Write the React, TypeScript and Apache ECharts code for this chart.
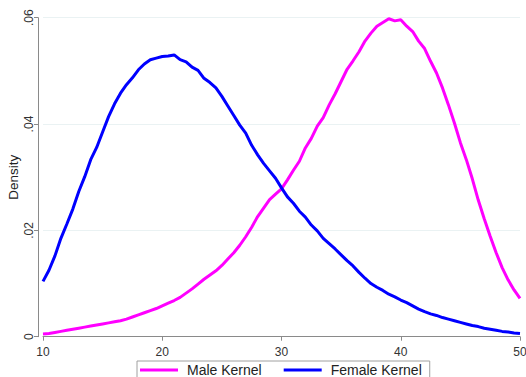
import React, { useEffect, useRef } from "react";
import * as echarts from "echarts";

const ages = [
  10, 10.5, 11, 11.5, 12, 12.5, 13, 13.5, 14, 14.5, 15, 15.5, 16, 16.5, 17, 17.5, 18, 18.5, 19, 19.5,
  20, 20.5, 21, 21.5, 22, 22.5, 23, 23.5, 24, 24.5, 25, 25.5, 26, 26.5, 27, 27.5, 28, 28.5, 29, 29.5,
  30, 30.5, 31, 31.5, 32, 32.5, 33, 33.5, 34, 34.5, 35, 35.5, 36, 36.5, 37, 37.5, 38, 38.5, 39, 39.5,
  40, 40.5, 41, 41.5, 42, 42.5, 43, 43.5, 44, 44.5, 45, 45.5, 46, 46.5, 47, 47.5, 48, 48.5, 49, 49.5, 50,
];

const maleKernel = [
  0.0005, 0.0006, 0.0008, 0.001, 0.0012, 0.0014, 0.0016, 0.0018, 0.002, 0.0022,
  0.0024, 0.0026, 0.0028, 0.003, 0.0033, 0.0037, 0.0041, 0.0045, 0.0049, 0.0053,
  0.0058, 0.0063, 0.0068, 0.0074, 0.0082, 0.009, 0.0099, 0.0108, 0.0116, 0.0124,
  0.0134, 0.0146, 0.0158, 0.0172, 0.0188, 0.0206, 0.0226, 0.0242, 0.0258, 0.0268,
  0.0278, 0.0295, 0.0313, 0.033, 0.0355, 0.0373, 0.0396, 0.0412, 0.0436, 0.0457,
  0.048, 0.0503, 0.0519, 0.0536, 0.0556, 0.0571, 0.0584, 0.0591, 0.0598, 0.0594,
  0.0596, 0.0584, 0.0574, 0.0556, 0.0542, 0.0518, 0.0496, 0.0468, 0.0436, 0.0402,
  0.0365, 0.0333, 0.0297, 0.0257, 0.0222, 0.0189, 0.0158, 0.013, 0.0107, 0.0088, 0.0072,
];

const femaleKernel = [
  0.0104, 0.0125, 0.0152, 0.0185, 0.0212, 0.024, 0.0273, 0.0301, 0.0333, 0.0356,
  0.0385, 0.0414, 0.0438, 0.0458, 0.0474, 0.0487, 0.0502, 0.0513, 0.0521, 0.0524,
  0.0527, 0.0528, 0.053, 0.0521, 0.0517, 0.0507, 0.0501, 0.0486, 0.0478, 0.0468,
  0.0452, 0.0434, 0.0416, 0.0398, 0.0383, 0.036, 0.0342, 0.0326, 0.0312, 0.0298,
  0.028, 0.0263, 0.0251, 0.0236, 0.0225, 0.021, 0.0199, 0.0185, 0.0175, 0.0165,
  0.0154, 0.0143, 0.0133, 0.0121, 0.011, 0.01, 0.0093, 0.0087, 0.008, 0.0075,
  0.0069, 0.0064, 0.0058, 0.0052, 0.0047, 0.0043, 0.004, 0.0036, 0.0033, 0.003,
  0.0027, 0.0024, 0.0021, 0.0019, 0.0016, 0.0014, 0.0012, 0.001, 0.0009, 0.0007, 0.0006,
];

const seriesNames = ["Male Kernel", "Female Kernel"];
const xTicks = [10, 20, 30, 40, 50];
const yTicks = [0, 0.02, 0.04, 0.06];

const FONT = "'Liberation Sans', Arial, sans-serif";

export default function App() {
  const ref = useRef<HTMLDivElement>(null);

  useEffect(() => {
    document.body.style.margin = "0";
    if (!ref.current) return;
    const chart = echarts.init(ref.current, undefined, { renderer: "svg" });
    const axisColor = "#8a8a8a";
    chart.setOption({
      animation: false,
      backgroundColor: "#ffffff",
      grid: {
        left: 43,
        right: 6,
        top: 17.7,
        bottom: 40.3,
        containLabel: false,
        outerBoundsMode: "none",
      },
      xAxis: {
        type: "value",
        min: xTicks[0],
        max: xTicks[xTicks.length - 1],
        interval: xTicks[1] - xTicks[0],
        offset: 6,
        axisLine: { show: true, lineStyle: { color: axisColor, width: 1 } },
        axisTick: { show: true, length: 4, lineStyle: { color: axisColor } },
        axisLabel: { color: "#333", fontSize: 12, fontFamily: FONT, margin: 3, hideOverlap: false },
        splitLine: { show: false },
      },
      yAxis: {
        type: "value",
        min: yTicks[0],
        max: yTicks[yTicks.length - 1],
        interval: yTicks[1] - yTicks[0],
        offset: 5,
        name: "Density",
        nameLocation: "middle",
        nameGap: 18,
        nameMoveOverlap: false,
        nameRotate: 90,
        nameTextStyle: { color: "#222", fontSize: 13.5, fontFamily: FONT },
        axisLine: { show: true, lineStyle: { color: axisColor, width: 1 } },
        axisTick: { show: true, length: 4, lineStyle: { color: axisColor } },
        axisLabel: {
          color: "#333",
          fontSize: 12,
          fontFamily: FONT,
          rotate: 90,
          margin: 3,
          formatter: (v: number) => (v === 0 ? "0" : v.toFixed(2).replace(/^0/, "")),
        },
        splitLine: { show: true, lineStyle: { color: "#eaf2f3", width: 1 } },
      },
      legend: {
        data: seriesNames,
        left: 137,
        top: 361,
        orient: "horizontal",
        padding: [2, 8, 6, 3],
        itemGap: 22,
        itemWidth: 38,
        itemHeight: 3,
        icon: "rect",
        borderColor: "#a0a0a0",
        borderWidth: 1,
        textStyle: { color: "#222", fontSize: 14, fontFamily: FONT, padding: [0, 0, 0, 4], lineHeight: 14 },
      },
      series: [
        {
          name: seriesNames[0],
          type: "line",
          data: ages.map((a, i) => [a, maleKernel[i]]),
          showSymbol: false,
          symbol: "none",
          lineStyle: { color: "#ff00ff", width: 3 },
          itemStyle: { color: "#ff00ff" },
        },
        {
          name: seriesNames[1],
          type: "line",
          data: ages.map((a, i) => [a, femaleKernel[i]]),
          showSymbol: false,
          symbol: "none",
          lineStyle: { color: "#0000ff", width: 3 },
          itemStyle: { color: "#0000ff" },
        },
      ],
    });
    return () => chart.dispose();
  }, []);

  return <div ref={ref} style={{ width: 526, height: 377 }} />;
}
